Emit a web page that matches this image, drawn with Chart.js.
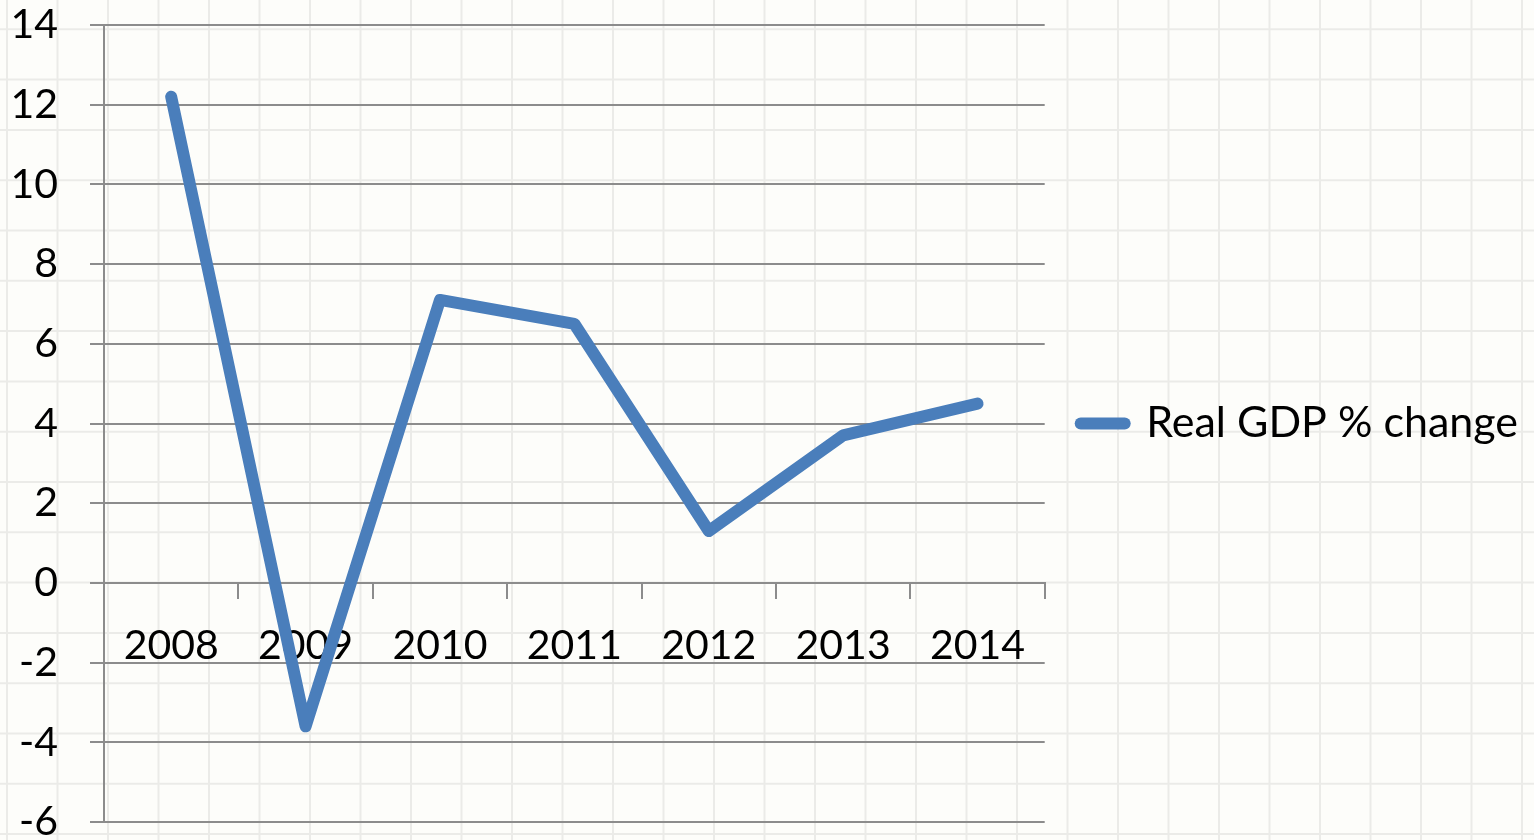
<!DOCTYPE html>
<html>
<head>
<meta charset="utf-8">
<script src="https://cdn.jsdelivr.net/npm/chart.js@4.4.1/dist/chart.umd.min.js"></script>
<style>
html, body { margin: 0; padding: 0; background: #fdfdfa; }
#wrap { width: 1534px; height: 840px; position: relative; }
</style>
</head>
<body>
<div id="wrap"><canvas id="gdp-canvas"></canvas></div>
<script>
// data
const years = ['2008', '2009', '2010', '2011', '2012', '2013', '2014'];
const gdpChange = [12.2, -3.6, 7.1, 6.5, 1.3, 3.7, 4.5];
const yMin = -6;
const yMax = 14;
const yStep = 2;

const axisGray = '#8c8c8c';
const labelFont = { family: 'Lato', size: 41 };

// faint spreadsheet cells behind the chart
const sheetGrid = {
	id: 'sheetGrid',
	beforeDraw(chart) {
		const ctx = chart.ctx;
		ctx.save();
		ctx.fillStyle = '#fdfdfa';
		ctx.fillRect(0, 0, chart.width, chart.height);
		ctx.strokeStyle = 'rgba(0, 0, 0, 0.07)';
		ctx.lineWidth = 2;
		ctx.beginPath();
		for (let x = 7; x < chart.width; x += 50.5) {
			ctx.moveTo(x, 0);
			ctx.lineTo(x, chart.height);
		}
		for (let y = 29.3; y < chart.height; y += 50.3) {
			ctx.moveTo(0, y);
			ctx.lineTo(chart.width, y);
		}
		ctx.stroke();
		ctx.restore();
	}
};

new Chart('gdp-canvas', {
	type: 'line',
	data: {
		labels: years,
		datasets: [
			{
				label: 'Real GDP % change',
				data: gdpChange,
				borderColor: '#4a7ebb',
				backgroundColor: '#4a7ebb',
				borderWidth: 12,
				borderCapStyle: 'round',
				borderJoinStyle: 'round',
				pointRadius: 0,
				pointStyle: 'line',
				tension: 0
			}
		]
	},
	options: {
		responsive: true,
		maintainAspectRatio: false,
		animation: false,
		layout: {
			padding: { top: 25, bottom: 18, left: 0, right: 6 }
		},
		scales: {
			x: {
				type: 'category',
				offset: true,
				position: { y: 0 },
				grid: {
					drawOnChartArea: false,
					offset: true,
					tickLength: 15,
					color: axisGray,
					lineWidth: 2
				},
				border: { color: axisGray, width: 2 },
				ticks: {
					font: labelFont,
					color: '#000',
					padding: 23,
					maxRotation: 0,
					autoSkip: false
				},
				afterFit: (scale) => {
					scale.height = 0;
					scale.paddingLeft = 0;
					scale.paddingRight = 0;
				}
			},
			y: {
				min: yMin,
				max: yMax,
				ticks: {
					stepSize: yStep,
					font: labelFont,
					color: '#000',
					padding: 32
				},
				grid: {
					color: axisGray,
					lineWidth: 2,
					tickLength: 14
				},
				border: { color: axisGray, width: 2 },
				afterFit: (scale) => {
					scale.width = 104;
					scale.paddingTop = 0;
					scale.paddingBottom = 0;
				}
			}
		},
		plugins: {
			tooltip: { enabled: false },
			legend: {
				display: true,
				position: 'right',
				align: 'center',
				maxWidth: 700,
				labels: {
					usePointStyle: true,
					pointStyle: 'line',
					pointStyleWidth: 44,
					padding: 36,
					color: '#000',
					font: { family: 'Lato', size: 43 },
					generateLabels: (chart) => {
						const items = Chart.defaults.plugins.legend.labels.generateLabels(chart);
						return items.map(item => ({ ...item, lineCap: 'round' }));
					}
				}
			}
		}
	},
	plugins: [sheetGrid]
});
</script>
</body>
</html>
